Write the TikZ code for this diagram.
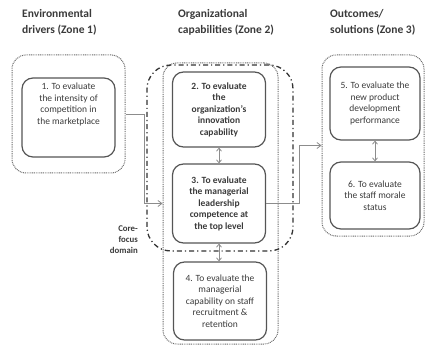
\documentclass[tikz,border=0pt]{standalone}
\usepackage{fontspec}
\setmainfont{Carlito}
\usetikzlibrary{arrows.meta}
\definecolor{txt}{HTML}{3A3A3A}
\definecolor{bord}{HTML}{555555}
\definecolor{dotc}{HTML}{6A6A6A}
\definecolor{conc}{HTML}{8C8C8C}
\tikzset{
  title/.style={anchor=north west, align=left, font=\fontsize{11.5}{16}\selectfont\bfseries, text=txt, inner sep=0pt},
  itembox/.style={draw=bord, line width=1.2pt, rounded corners=11pt, align=center, text=txt,
    font=\fontsize{9.5}{11.5}\selectfont, minimum width=93pt, inner sep=2pt},
  bolditem/.style={itembox, font=\fontsize{9.5}{11.5}\selectfont\bfseries},
  plaintext/.style={align=center, text=txt, font=\fontsize{9.5}{11.5}\selectfont, inner sep=0pt},
  zonebox/.style={draw=dotc, line width=1pt, dash pattern=on 0.9pt off 0.9pt, rounded corners=14pt, inner sep=0pt},
  corebox/.style={draw=black!80, line width=1.3pt, dash pattern=on 5pt off 3pt on 1.2pt off 3pt, rounded corners=24pt, inner sep=0pt},
  conn/.style={draw=conc, line width=0.8pt, -{Straight Barb[length=4pt,width=6pt]}},
  dbl/.style={draw=conc, line width=0.8pt, {Straight Barb[length=3pt,width=5pt]}-{Straight Barb[length=3pt,width=5pt]}},
  corelabel/.style={anchor=north east, align=right, font=\fontsize{8.8}{11}\selectfont\bfseries, text=txt, inner sep=0pt},
}
\begin{document}
\begin{tikzpicture}[x=1pt,y=-1pt]
\useasboundingbox (0,0) rectangle (425,347);
% titles
\node[title] (t1) at (22,9) {Environmental\\drivers (Zone 1)};
\node[title] (t2) at (178,9) {Organizational\\capabilities (Zone 2)};
\node[title] (t3) at (330,9) {Outcomes/\\solutions (Zone 3)};
% zone boxes
\node[zonebox, minimum width=113pt, minimum height=118pt] (z1) at (68.5,114) {};
\node[zonebox, minimum width=115pt, minimum height=281pt] (z2) at (220.5,203.5) {};
\node[zonebox, minimum width=102pt, minimum height=181pt] (z3) at (373,145.5) {};
% core focus domain
\node[corebox, minimum width=146pt, minimum height=186pt] (core) at (220,158) {};
\node[corelabel] (cl) at (138,226) {Core-\\focus\\domain};
% items
\node[itembox, minimum height=79pt] (b1) at (68.5,117.5) {};
\node[plaintext] (b1t) at (68.5,104.5) {1. To evaluate\\the intensity of\\competition in\\the marketplace};
\node[bolditem, minimum height=75pt] (b2) at (219,109.5) {2. To evaluate\\the\\organization's\\innovation\\capability};
\node[bolditem, minimum height=79pt] (b3) at (219,203.5) {3. To evaluate\\the managerial\\leadership\\competence at\\the top level};
\node[itembox, minimum height=78pt] (b4) at (220,301) {4. To evaluate the\\managerial\\capability on staff\\recruitment \&\\retention};
\node[itembox, minimum width=90pt, minimum height=73pt] (b5) at (375,103.5) {5. To evaluate the\\new product\\development\\performance};
\node[itembox, minimum width=90pt, minimum height=67pt] (b6) at (375,195.5) {6. To evaluate\\the staff morale\\status};
% connectors
\draw[conn] (z1.east) -- ++(19,0) |- (z2.west |- b3.east);
\draw[conn] (b3.east) -- ++(33,0) |- (z3.west);
\draw[dbl] (b2.south) -- (b3.north);
\draw[dbl] (b3.south) -- (b3.south |- b4.north);
\draw[dbl] (b5.south) -- (b6.north);
\end{tikzpicture}
\end{document}
